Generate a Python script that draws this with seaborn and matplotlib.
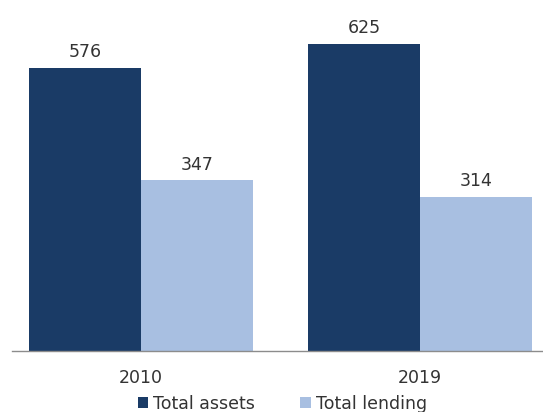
import pandas as pd
import seaborn as sns
import matplotlib.pyplot as plt

years = ["2010", "2019"]
total_assets = [576, 625]
total_lending = [347, 314]

col_dark = "#1a3b66"
col_light = "#a8bfe1"
text_col = "#333333"

df = pd.DataFrame({
    "year": years * 2,
    "value": total_assets + total_lending,
    "series": ["Total assets"] * 2 + ["Total lending"] * 2,
})

sns.set_theme(style="white")
plt.rcParams["font.family"] = ["DejaVu Sans"]

fig = plt.figure(figsize=(5.43, 4.12), dpi=100)
ax = fig.add_axes([0.022, 0.148, 0.978, 0.835])
sns.barplot(
    df, x="year", y="value", hue="series",
    palette={"Total assets": col_dark, "Total lending": col_light},
    width=0.8, saturation=1, linewidth=0, ax=ax,
)
for c in ax.containers:
    ax.bar_label(c, fmt="%d", padding=5, fontsize=12.5, color=text_col)

ax.set_xlim(-0.462, 1.44)
ax.set_ylim(0, 700)
ax.set(xlabel="", ylabel="")
ax.set_yticks([])
for s in ["top", "right", "left"]:
    ax.spines[s].set_visible(False)
ax.spines["bottom"].set_color("#8c8c8c")
ax.spines["bottom"].set_linewidth(1)
ax.tick_params(axis="x", length=0, pad=13, labelsize=12.5, labelcolor=text_col)

ax.get_legend().remove()
handles, labels = ax.get_legend_handles_labels()
fig.legend(
    handles, labels, loc="lower center", bbox_to_anchor=(0.52, -0.04), ncol=2,
    frameon=False, fontsize=12.5, labelcolor=text_col,
    handlelength=0.6, handleheight=0.6, handletextpad=0.3, columnspacing=2.6,
)

fig.savefig("out.png", dpi=100)
